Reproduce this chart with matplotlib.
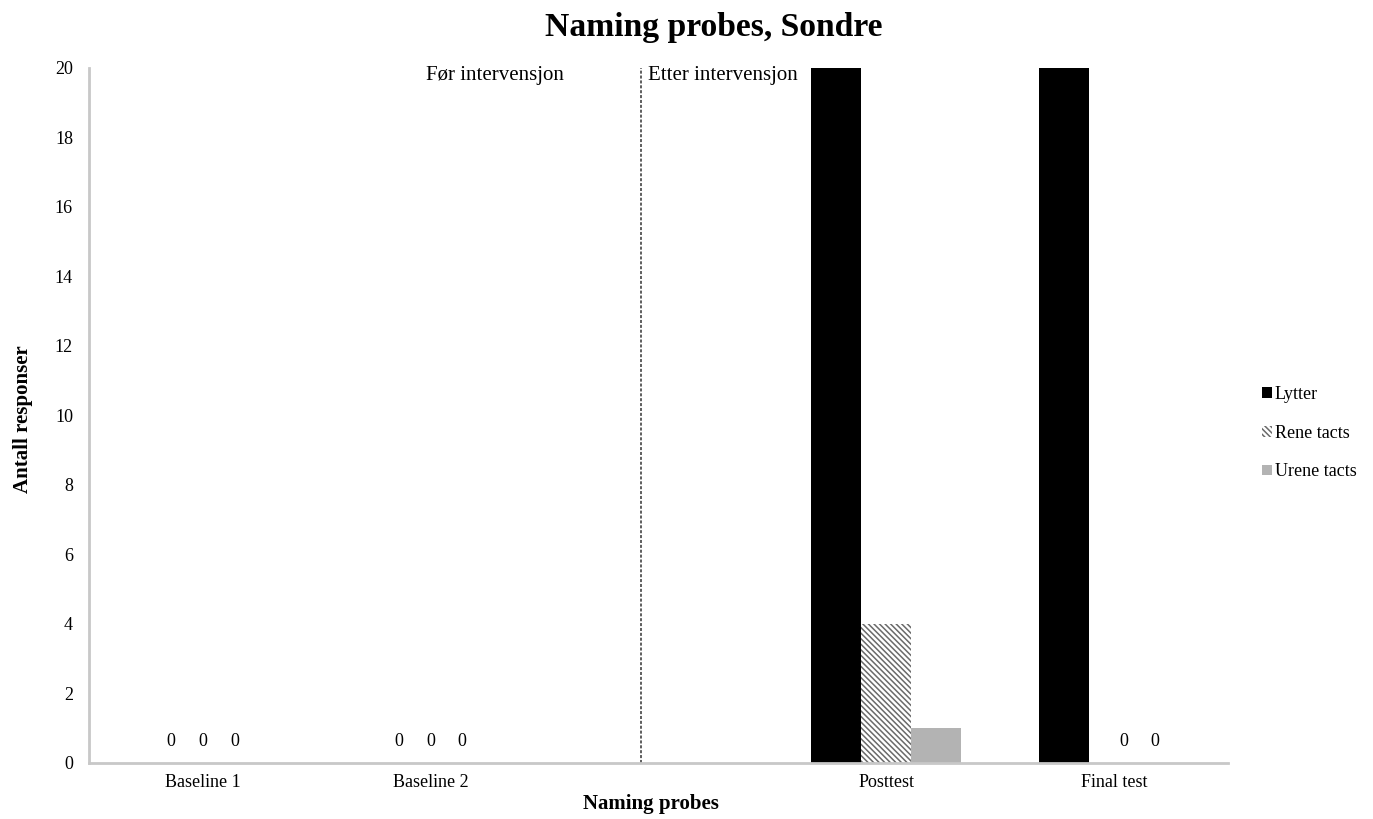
import numpy as np
import matplotlib
matplotlib.use("Agg")
import matplotlib.pyplot as plt
from matplotlib.patches import Patch

plt.rcParams['font.family'] = ['Liberation Serif', 'DejaVu Serif']
plt.rcParams['hatch.linewidth'] = 1.1

categories = ["Baseline 1", "Baseline 2", "", "Posttest", "Final test"]
series_names = ["Lytter", "Rene tacts", "Urene tacts"]
lytter = [0, 0, np.nan, 20, 20]
rene_tacts = [0, 0, np.nan, 4, 0]
urene_tacts = [0, 0, np.nan, 1, 0]
phase_change = 1.925

series = [lytter, rene_tacts, urene_tacts]
styles = [
    dict(color="black", edgecolor="black", hatch=None),
    dict(color="white", edgecolor="#6a6a6a", hatch="\\" * 6),
    dict(color="#b3b3b3", edgecolor="#b3b3b3", hatch=None),
]

fig = plt.figure(figsize=(13.73, 8.19), dpi=100)
ax = fig.add_axes([0.0648, 0.0684, 0.8296, 0.8486])

x = np.arange(len(categories))
width = 0.22
offsets = [-width, 0, width]

for vals, off, st, name in zip(series, offsets, styles, series_names):
    v = np.array(vals, dtype=float)
    ax.bar(x + off, np.nan_to_num(v), width, color=st["color"],
           edgecolor=st["edgecolor"], hatch=st["hatch"], linewidth=0,
           label=name)

# zero-value labels, spread around the group
for i in range(len(categories)):
    zero_pos = [x[i] + off for vals, off in zip(series, offsets)
                if not np.isnan(vals[i]) and vals[i] == 0]
    if not zero_pos:
        continue
    mid = np.mean(zero_pos)
    for p in zero_pos:
        px = mid + (p - mid) * 0.63
        ax.annotate("0", (px, 0), xytext=(0, 9), textcoords="offset points",
                    ha="center", va="bottom", fontsize=13)

ax.axvline(phase_change, color="#333333", linestyle=(0, (2, 1.2)), linewidth=1.1)
ax.text(phase_change - 0.34, 19.78, "Før intervensjon", ha="right", va="center",
        fontsize=15)
ax.text(phase_change + 0.03, 19.78, "Etter intervensjon", ha="left", va="center",
        fontsize=15)

ax.set_xlim(-0.5, len(categories) - 0.5)
ax.set_ylim(0, 20)
ax.set_yticks(np.arange(0, 21, 2))
ax.set_xticks(x)
ax.set_xticklabels(categories, fontsize=13)
ax.tick_params(axis="both", length=0, labelsize=13)
ax.tick_params(axis="y", pad=11.5)
ax.tick_params(axis="x", pad=8)

for side in ("top", "right"):
    ax.spines[side].set_visible(False)
for side in ("left", "bottom"):
    ax.spines[side].set_color("#c8c8c8")
    ax.spines[side].set_linewidth(2)

ax.set_xlabel("Naming probes", fontsize=15, fontweight="bold")
ax.xaxis.set_label_coords(0.4934, -0.045)
ax.set_ylabel("Antall responser", fontsize=15, fontweight="bold")
ax.yaxis.set_label_coords(-0.049, 0.495)

fig.text(0.5197, 0.967, "Naming probes, Sondre", ha="center", va="center",
         fontsize=24.2, fontweight="bold")

handles = [Patch(facecolor=st["color"], edgecolor=st["edgecolor"],
                 hatch=st["hatch"], linewidth=0) for st in styles]
fig.legend(handles, series_names, loc="upper left",
           bbox_to_anchor=(1262 / 1373, 1 - 386 / 819), frameon=False,
           fontsize=13, borderpad=0, borderaxespad=0,
           handlelength=0.55, handleheight=0.55, handletextpad=0.15,
           labelspacing=1.2)

fig.savefig("out.png", dpi=100)
